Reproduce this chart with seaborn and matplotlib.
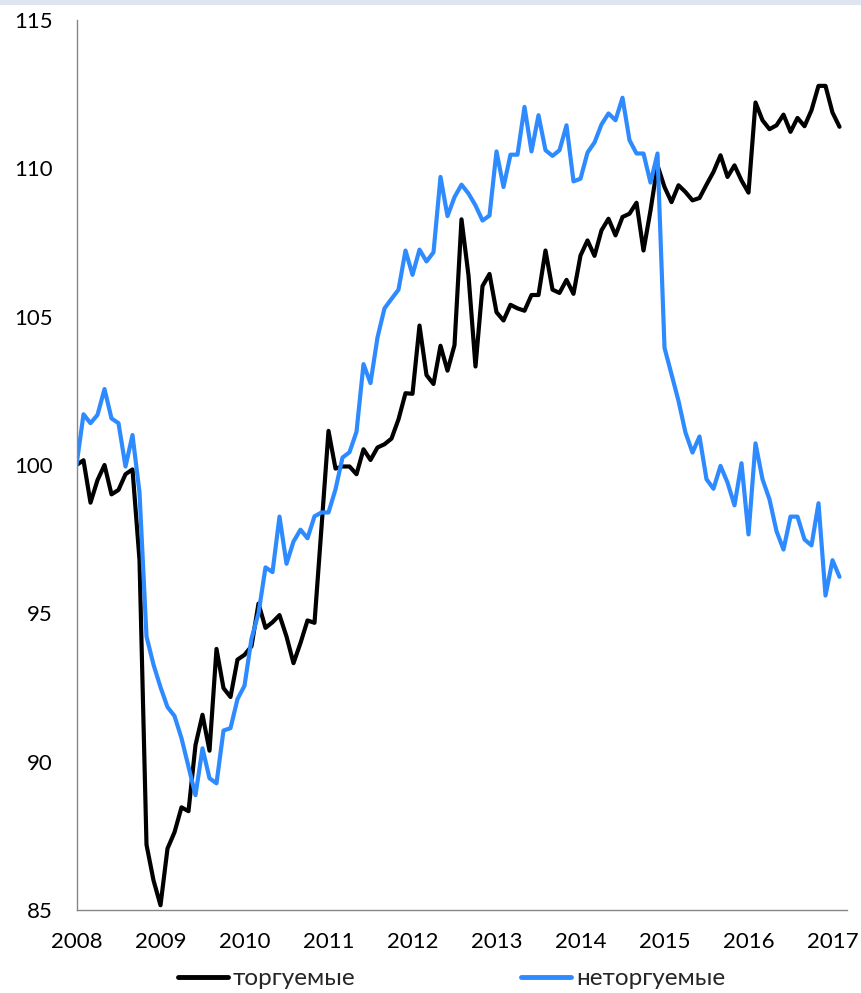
import numpy as np
import pandas as pd
import seaborn as sns
import matplotlib
matplotlib.use("Agg")
import matplotlib.pyplot as plt
from matplotlib.patches import Rectangle
from matplotlib.lines import Line2D

# ---- data (monthly index, Jan 2008 .. Feb 2017) ----
traded = [100.0, 100.16, 98.73, 99.49, 100.0, 99.01, 99.16, 99.69, 99.85, 96.8,
          87.2, 86.0, 85.16, 87.07, 87.62, 88.46, 88.33, 90.56, 91.58, 90.37,
          93.8, 92.48, 92.18, 93.44, 93.6, 93.89, 95.33, 94.51, 94.7, 94.94,
          94.22, 93.32, 94.0, 94.76, 94.68, 97.9, 101.15, 99.88, 99.95, 99.95,
          99.69, 100.53, 100.17, 100.59, 100.7, 100.89, 101.54, 102.42, 102.4, 104.7,
          103.03, 102.73, 104.02, 103.18, 104.04, 108.28, 106.39, 103.32, 106.03, 106.44,
          105.15, 104.87, 105.4, 105.28, 105.2, 105.73, 105.73, 107.23, 105.91, 105.8,
          106.24, 105.77, 107.06, 107.57, 107.05, 107.91, 108.3, 107.74, 108.36, 108.47,
          108.84, 107.23, 108.58, 110.1, 109.37, 108.86, 109.43, 109.2, 108.92, 109.0,
          109.45, 109.88, 110.44, 109.71, 110.1, 109.59, 109.18, 112.22, 111.62, 111.32,
          111.45, 111.81, 111.23, 111.7, 111.42, 111.96, 112.78, 112.78, 111.88, 111.4]

nontraded = [100.0, 101.71, 101.41, 101.69, 102.56, 101.57, 101.41, 99.95, 101.01, 99.07,
             94.22, 93.27, 92.51, 91.84, 91.54, 90.79, 89.83, 88.87, 90.45, 89.44,
             89.27, 91.05, 91.13, 92.11, 92.56, 94.15, 95.0, 96.55, 96.39, 98.26,
             96.67, 97.42, 97.82, 97.53, 98.27, 98.4, 98.4, 99.18, 100.25, 100.43,
             101.12, 103.4, 102.76, 104.3, 105.28, 105.6, 105.91, 107.23, 106.41, 107.26,
             106.86, 107.17, 109.71, 108.39, 109.03, 109.45, 109.15, 108.75, 108.24, 108.41,
             110.57, 109.37, 110.46, 110.46, 112.07, 110.57, 111.79, 110.61, 110.42, 110.61,
             111.45, 109.56, 109.65, 110.53, 110.87, 111.48, 111.85, 111.62, 112.38, 110.95,
             110.5, 110.5, 109.52, 110.5, 103.95, 103.06, 102.16, 101.09, 100.42, 100.96,
             99.52, 99.2, 99.97, 99.41, 98.64, 100.06, 97.66, 100.73, 99.52, 98.84,
             97.77, 97.15, 98.26, 98.26, 97.49, 97.29, 98.71, 95.6, 96.79, 96.23]

series_names = ["торгуемые", "неторгуемые"]
series_colors = ["#000000", "#2E8BFF"]
year_labels = [str(y) for y in range(2008, 2018)]
y_ticks = [85, 90, 95, 100, 105, 110, 115]

months = np.arange(len(traded))
df = pd.DataFrame({
    "month": np.concatenate([months, months]),
    "value": traded + nontraded,
    "series": [series_names[0]] * len(traded) + [series_names[1]] * len(nontraded),
})

sns.set_theme(style="white")
plt.rcParams["font.family"] = ["Lato", "DejaVu Sans"]

FS = 16
LFS = 17.5

fig = plt.figure(figsize=(8.61, 9.93), dpi=100)
fig.patches.append(Rectangle((0, 1 - 5 / 993), 1, 5 / 993, transform=fig.transFigure,
                             facecolor="#dfe5ee", edgecolor="none"))
ax = fig.add_axes([76.5 / 861, 1 - 910 / 993, 770 / 861, 890 / 993])

sns.lineplot(data=df, x="month", y="value", hue="series", palette=series_colors,
             hue_order=series_names, linewidth=3.0, ax=ax, legend=False)

ax.set_xlim(0, 110)
ax.set_ylim(85, 115)
ax.set_xticks(np.arange(0, 12 * len(year_labels), 12))
ax.set_xticklabels(year_labels)
ax.set_yticks(y_ticks)
ax.set_yticklabels([str(v) for v in y_ticks])
ax.set_xlabel("")
ax.set_ylabel("")

for s in ["top", "right"]:
    ax.spines[s].set_visible(False)
for s in ["left", "bottom"]:
    ax.spines[s].set_color("#868686")
    ax.spines[s].set_linewidth(1.0)
ax.tick_params(axis="both", which="major", direction="out", length=6, width=1.0,
               color="#868686", labelsize=FS, labelcolor="#000000")
ax.tick_params(axis="y", pad=11)
ax.tick_params(axis="x", pad=10)
ax.grid(False)

handles = [Line2D([], [], color=c, linewidth=3.5) for c in series_colors]
fig.legend(handles, series_names, loc="center", bbox_to_anchor=(0.5244, 0.0145),
           ncol=2, frameon=False, fontsize=LFS, handlelength=2.06,
           handletextpad=0.2, columnspacing=6.8)

fig.savefig("out.png", dpi=100, facecolor="white")
